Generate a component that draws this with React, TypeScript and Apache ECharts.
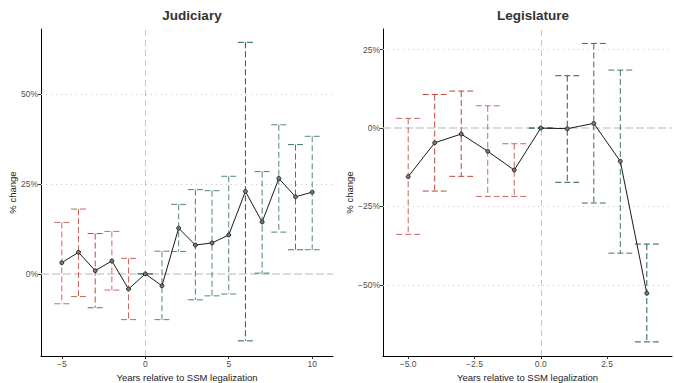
import React, { useEffect, useRef } from "react";
import * as echarts from "echarts";

// ---- data ----
const judYears = [-5, -4, -3, -2, -1, 0, 1, 2, 3, 4, 5, 6, 7, 8, 9, 10];
const judEst = [3.1, 6.0, 0.9, 3.6, -4.2, 0, -3.3, 12.7, 8.0, 8.6, 10.8, 22.9, 14.4, 26.5, 21.4, 22.7];
const judLow = [-8.3, -6.3, -9.4, -4.5, -12.7, 0, -12.7, 6.2, -7.2, -6.1, -5.6, -18.6, 0.2, 11.6, 6.7, 6.7];
const judHigh = [14.3, 18.0, 11.2, 11.8, 4.3, 0, 6.3, 19.3, 23.4, 23.1, 27.1, 64.3, 28.4, 41.4, 35.9, 38.2];
const judAlpha = [0.75, 0.8, 0.95, 0.75, 0.8, 0.8, 0.75, 0.75, 0.8, 0.75, 0.75, 1, 0.8, 0.75, 0.85, 0.75];

const legYears = [-5, -4, -3, -2, -1, 0, 1, 2, 3, 4];
const legEst = [-15.5, -4.7, -1.9, -7.4, -13.4, 0, -0.2, 1.5, -10.6, -52.7];
const legLow = [-33.9, -20.1, -15.4, -21.8, -21.8, 0, -17.3, -23.9, -39.9, -68.2];
const legHigh = [3.1, 10.7, 11.8, 7.1, -5.0, 0, 16.7, 27.0, 18.5, -37.0];
const legAlpha = [0.8, 0.95, 0.95, 0.75, 0.8, 0.8, 1, 0.9, 0.85, 1];

const judXTicks = [-5, 0, 5, 10];
const judYTicks = [0, 25, 50];
const legXTicks = [-5, -2.5, 0, 2.5];
const legYTicks = [-50, -25, 0, 25];

const titles = ["Judiciary", "Legislature"];
const xName = "Years relative to SSM legalization";
const yName = "% change";

const FONT = "Liberation Sans, Arial, Helvetica, sans-serif";
const minus = (s: string) => s.replace("-", "\u2212");

function errColor(x: number, a: number) {
  if (x < 0) return `rgba(180,62,50,${a})`;
  return `rgba(30,100,60,${a})`;
}

function errSeries(idx: number, xs: number[], lo: number[], hi: number[], al: number[]) {
  return {
    type: "custom",
    xAxisIndex: idx,
    yAxisIndex: idx,
    data: xs.map((x, i) => [x, lo[i], hi[i], al[i]]),
    encode: { x: 0, y: [1, 2] },
    z: 3,
    silent: true,
    renderItem: (params: any, api: any) => {
      const x = api.value(0);
      const l = api.value(1);
      const h = api.value(2);
      const a = api.value(3);
      const pl = api.coord([x, l]);
      const ph = api.coord([x, h]);
      const hw = api.size([0.45, 0])[0];
      const style = {
        stroke: errColor(x, a),
        lineWidth: 1,
        lineDash: [6, 3],
        fill: null,
      };
      return {
        type: "group",
        children: [
          { type: "line", shape: { x1: ph[0] - hw, y1: ph[1], x2: ph[0] + hw, y2: ph[1] }, style },
          { type: "line", shape: { x1: ph[0], y1: ph[1], x2: pl[0], y2: pl[1] }, style },
          { type: "line", shape: { x1: pl[0] - hw, y1: pl[1], x2: pl[0] + hw, y2: pl[1] }, style },
        ],
      };
    },
  };
}

function lineSeries(idx: number, xs: number[], ys: number[], yTicks: number[]) {
  return {
    type: "line",
    xAxisIndex: idx,
    yAxisIndex: idx,
    data: xs.map((x, i) => [x, ys[i]]),
    symbol: "circle",
    symbolSize: 4,
    lineStyle: { color: "#1a1a1a", width: 1 },
    itemStyle: { color: "#7a7a7a", borderColor: "#111", borderWidth: 0.8 },
    z: 5,
    silent: true,
    markLine: {
      silent: true,
      symbol: "none",
      label: { show: false },
      z: 1,
      data: [
        ...yTicks
          .filter((t) => t !== 0)
          .map((t) => ({ yAxis: t, lineStyle: { color: "#c8c8c8", type: [1, 4], width: 1 } })),
        { yAxis: 0, lineStyle: { color: "#cfcfcf", type: [8, 3], width: 1.5 } },
        { xAxis: 0, lineStyle: { color: "#b5b5b5", type: [6, 4], width: 0.8 } },
      ],
    },
  };
}

function xAxis(idx: number, min: number, max: number, ticks: number[], fmt: (v: number) => string) {
  return {
    type: "value",
    gridIndex: idx,
    min,
    max,
    name: xName,
    nameLocation: "middle",
    nameGap: 15,
    nameTextStyle: { fontFamily: FONT, fontSize: 9.5, color: "#222" },
    axisLine: { show: true, onZero: false, lineStyle: { color: "#000", width: 1 } },
    axisTick: { show: true, customValues: ticks, length: 3, lineStyle: { color: "#333" } },
    axisLabel: {
      customValues: ticks,
      formatter: (v: number) => fmt(v),
      fontFamily: FONT,
      fontSize: 8.5,
      color: "#4d4d4d",
      margin: 3,
    },
    splitLine: { show: false },
  };
}

function yAxis(idx: number, min: number, max: number, ticks: number[], gap: number) {
  return {
    type: "value",
    gridIndex: idx,
    min,
    max,
    name: yName,
    nameLocation: "middle",
    nameGap: gap,
    nameTextStyle: { fontFamily: FONT, fontSize: 9.5, color: "#222" },
    axisLine: { show: true, onZero: false, lineStyle: { color: "#000", width: 1 } },
    axisTick: { show: true, customValues: ticks, length: 3, lineStyle: { color: "#333" } },
    axisLabel: {
      customValues: ticks,
      formatter: (v: number) => minus(String(v)) + "%",
      fontFamily: FONT,
      fontSize: 8.5,
      color: "#4d4d4d",
      margin: 3,
    },
    splitLine: { show: false },
  };
}

export default function App() {
  const ref = useRef<HTMLDivElement>(null);
  useEffect(() => {
    if (!ref.current) return;
    const chart = echarts.init(ref.current, undefined, { renderer: "svg" });
    chart.setOption({
      animation: false,
      backgroundColor: "#fff",
      title: [
        {
          text: titles[0],
          left: 187,
          top: 3,
          textAlign: "center",
          textStyle: { fontFamily: FONT, fontSize: 13.5, fontWeight: "bold", color: "#333" },
        },
        {
          text: titles[1],
          left: 528,
          top: 3,
          textAlign: "center",
          textStyle: { fontFamily: FONT, fontSize: 13.5, fontWeight: "bold", color: "#333" },
        },
      ],
      grid: [
        { left: 41, top: 29, width: 292, height: 327, outerBoundsMode: "none", containLabel: false },
        { left: 383, top: 29, width: 289, height: 327, outerBoundsMode: "none", containLabel: false },
      ],
      xAxis: [
        xAxis(0, -6.245, 11.245, judXTicks, (v) => minus(String(v))),
        xAxis(1, -5.95, 4.95, legXTicks, (v) => minus(v.toFixed(1))),
      ],
      yAxis: [yAxis(0, -22.8, 68, judYTicks, 24), yAxis(1, -72.7, 31.6, legYTicks, 29)],
      series: [
        errSeries(0, judYears, judLow, judHigh, judAlpha),
        lineSeries(0, judYears, judEst, judYTicks),
        errSeries(1, legYears, legLow, legHigh, legAlpha),
        lineSeries(1, legYears, legEst, legYTicks),
      ],
    });
    return () => chart.dispose();
  }, []);
  return (
    <div
      ref={ref}
      style={{ position: "fixed", left: 0, top: 0, width: 674, height: 383, background: "#fff" }}
    />
  );
}
